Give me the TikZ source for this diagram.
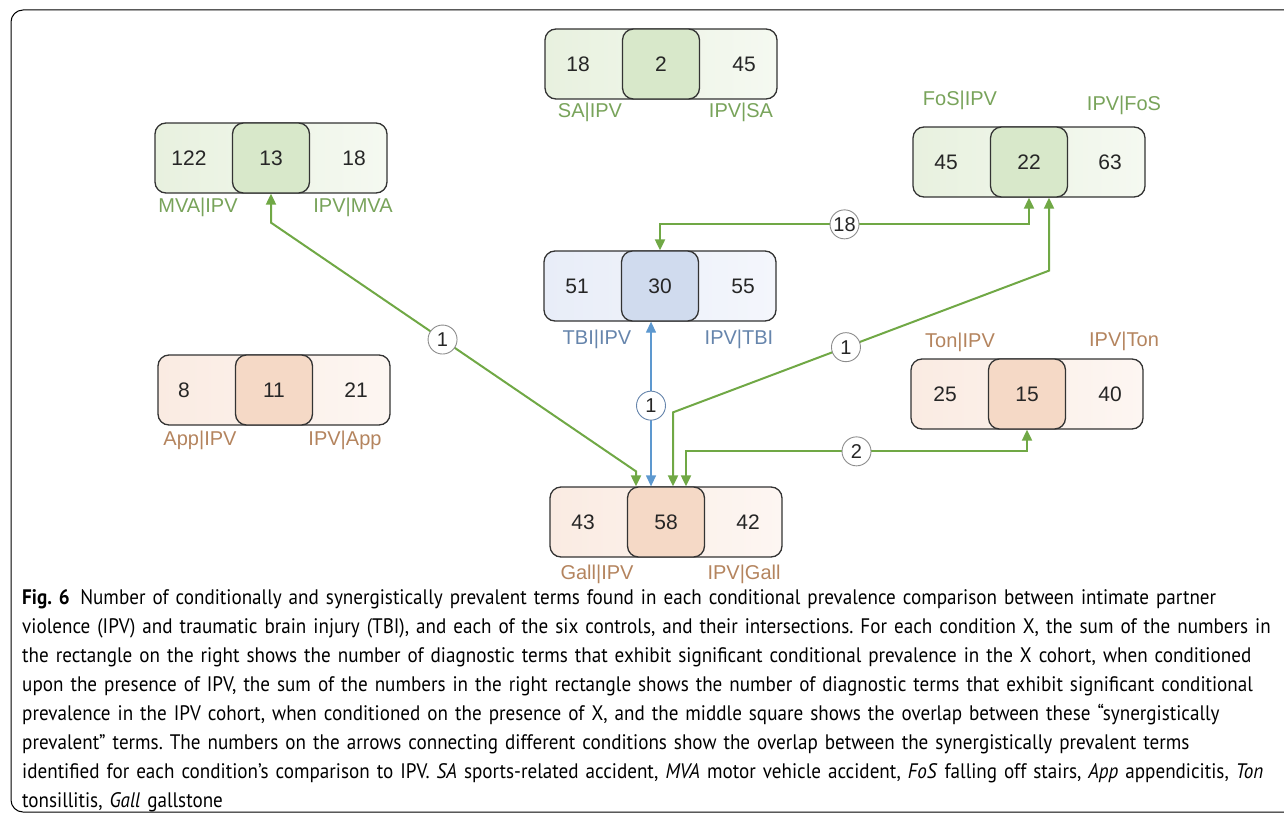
\documentclass[tikz,border=0pt]{standalone}
\usepackage{fontspec}
\setmainfont{Liberation Sans}
\newfontfamily\capfont[FakeStretch=0.91]{PT Sans}
\usepackage{tikz}
\usetikzlibrary{calc,arrows.meta}
\definecolor{grnL}{HTML}{E8F1DF}
\definecolor{grnR}{HTML}{F5F9F1}
\definecolor{grnM}{HTML}{D8E8CA}
\definecolor{bluL}{HTML}{E8EDF8}
\definecolor{bluR}{HTML}{F4F6FC}
\definecolor{bluM}{HTML}{D0DBEE}
\definecolor{orgL}{HTML}{FAEBE2}
\definecolor{orgR}{HTML}{FDF6F2}
\definecolor{orgM}{HTML}{F5D9C6}
\definecolor{labG}{HTML}{78A35A}
\definecolor{labB}{HTML}{6685AC}
\definecolor{labO}{HTML}{B4845E}
\definecolor{arrG}{HTML}{70A845}
\definecolor{arrB}{HTML}{5D98CF}

\begin{document}
\frenchspacing
\begin{tikzpicture}[x=1pt,y=-1pt,
  grp/.style={draw=black!80,line width=1.3pt,rounded corners=11pt,minimum width=232pt,minimum height=70pt,inner sep=0pt},
  mid/.style={draw=black!80,line width=1.3pt,rounded corners=11pt,minimum width=77pt,minimum height=70pt,inner sep=0pt,text=black!85,font=\fontsize{21}{21}\selectfont},
  num/.style={text=black!85,font=\fontsize{21}{21}\selectfont},
  lab/.style={font=\fontsize{20}{20}\selectfont},
  cnt/.style={circle,draw=black!45,fill=white,line width=.9pt,minimum size=29pt,inner sep=0pt,text=black!85,font=\fontsize{20}{20}\selectfont},
  link/.style={{Triangle[length=11pt,width=10pt]}-{Triangle[length=11pt,width=10pt]},draw=arrG,line width=2pt},
  blink/.style={link,draw=arrB,line width=1.3pt}]
\useasboundingbox (0,0) rectangle (1284,816);
\draw[line width=1pt,rounded corners=12pt] (1300,10) -- (11,10) -- (11,812) -- (1300,812);

\node (sa) at (661,64) [grp,left color=grnL,right color=grnR] {};
\node (sam) at (661,64) [mid,fill=grnM] {2};
\node (sal) at (578,64) [num] {18};
\node (sar) at (744,64) [num] {45};
\node (salab) at (590,112) [lab,text=labG] {SA\textbar IPV};
\node (sarlab) at (741,112) [lab,text=labG] {IPV\textbar SA};

\node (mva) at (271,158) [grp,left color=grnL,right color=grnR] {};
\node (mvam) at (271,158) [mid,fill=grnM] {13};
\node (mval) at (189,158) [num] {122};
\node (mvar) at (354,158) [num] {18};
\node (mvalab) at (198,207) [lab,text=labG] {MVA\textbar IPV};
\node (mvarlab) at (353,207) [lab,text=labG] {IPV\textbar MVA};

\node (fos) at (1029,162) [grp,left color=grnL,right color=grnR] {};
\node (fosm) at (1029,162) [mid,fill=grnM] {22};
\node (fosl) at (946,162) [num] {45};
\node (fosr) at (1110,162) [num] {63};
\node (foslab) at (960,100) [lab,text=labG] {FoS\textbar IPV};
\node (fosrlab) at (1124,105) [lab,text=labG] {IPV\textbar FoS};

\node (tbi) at (660,286) [grp,left color=bluL,right color=bluR] {};
\node (tbim) at (660,286) [mid,fill=bluM] {30};
\node (tbil) at (577,286) [num] {51};
\node (tbir) at (743,286) [num] {55};
\node (tbilab) at (597,339) [lab,text=labB] {TBI\textbar IPV};
\node (tbirlab) at (739,339) [lab,text=labB] {IPV\textbar TBI};

\node (app) at (274,390) [grp,left color=orgL,right color=orgR] {};
\node (appm) at (274,390) [mid,fill=orgM] {11};
\node (appl) at (184,390) [num] {8};
\node (appr) at (356,390) [num] {21};
\node (applab) at (200,440) [lab,text=labO] {App\textbar IPV};
\node (apprlab) at (345,440) [lab,text=labO] {IPV\textbar App};

\node (ton) at (1027,394) [grp,left color=orgL,right color=orgR] {};
\node (tonm) at (1027,394) [mid,fill=orgM] {15};
\node (tonl) at (945,394) [num] {25};
\node (tonr) at (1110,394) [num] {40};
\node (tonlab) at (960,342) [lab,text=labO] {Ton\textbar IPV};
\node (tonrlab) at (1124,341) [lab,text=labO] {IPV\textbar Ton};

\node (gall) at (666,522) [grp,left color=orgL,right color=orgR] {};
\node (gallm) at (666,522) [mid,fill=orgM] {58};
\node (galll) at (583,522) [num] {43};
\node (gallr) at (748,522) [num] {42};
\node (galllab) at (597,574) [lab,text=labO] {Gall\textbar IPV};
\node (gallrlab) at (744,574) [lab,text=labO] {IPV\textbar Gall};

\draw[link] (mvam.south) -- ++(0,29) -- node[cnt,pos=.47] (c1) {1} ($(gallm.north)+(-30,-15)$) -- ($(gallm.north)+(-30,0)$);
\draw[blink] ($(tbim.south)+(-9,0)$) -- node[cnt,draw=labB,pos=.51] (c2) {1} ($(gallm.north)+(-15,0)$);
\draw[link] ($(fosm.south)+(20,0)$) -- ++(0,73) -- node[cnt,pos=.54] (c3) {1} ($(gallm.north)+(7,-74)$) -- ($(gallm.north)+(7,0)$);
\draw[link] (fosm.south) |- node[cnt,pos=.75] (c4) {18} ($(tbim.north)+(0,-26)$) -- (tbim.north);
\draw[link] (tonm.south) |- node[cnt,pos=.75] (c5) {2} ($(gallm.north)+(20,-35)$) -- ($(gallm.north)+(20,0)$);

\node (cap) at (22,589) [anchor=north west,inner sep=0pt,align=left,text width=1262pt,font=\capfont\fontsize{21}{29}\selectfont] {\textbf{Fig. 6}\enspace Number of conditionally and synergistically prevalent terms found in each conditional prevalence comparison between intimate partner\\
violence (IPV) and traumatic brain injury (TBI), and each of the six controls, and their intersections. For each condition X, the sum of the numbers in\\
the rectangle on the right shows the number of diagnostic terms that exhibit significant conditional prevalence in the X cohort, when conditioned\\
upon the presence of IPV, the sum of the numbers in the right rectangle shows the number of diagnostic terms that exhibit significant conditional\\
prevalence in the IPV cohort, when conditioned on the presence of X, and the middle square shows the overlap between these “synergistically\\
prevalent” terms. The numbers on the arrows connecting different conditions show the overlap between the synergistically prevalent terms\\
identified for each condition’s comparison to IPV. \textit{SA} sports-related accident, \textit{MVA} motor vehicle accident, \textit{FoS} falling off stairs, \textit{App} appendicitis, \textit{Ton}\\
tonsillitis, \textit{Gall} gallstone};
\end{tikzpicture}
\end{document}
